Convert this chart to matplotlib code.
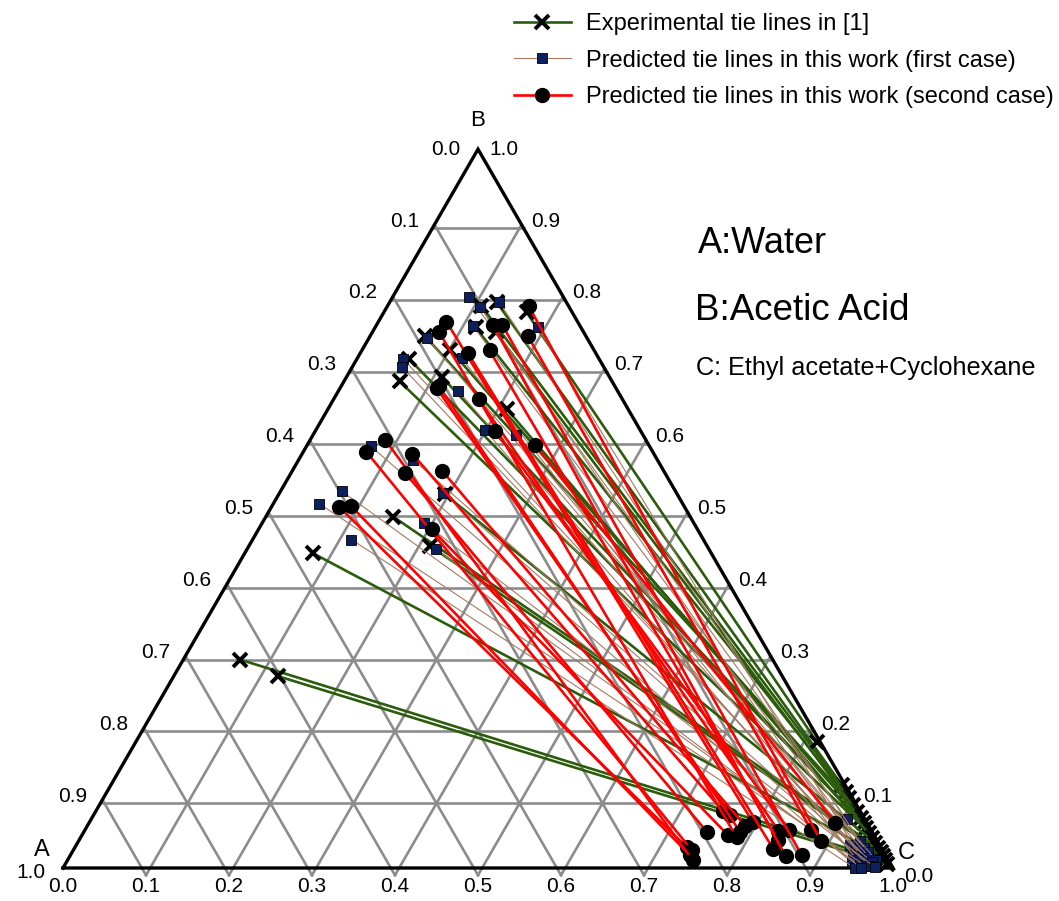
import numpy as np
import matplotlib
matplotlib.use("Agg")
import matplotlib.pyplot as plt
from matplotlib.lines import Line2D

plt.rcParams['font.family'] = ['Liberation Sans', 'DejaVu Sans']

# ---------------- data (mole fractions: B = acetic acid, C = ethyl acetate + cyclohexane) -------------
# Experimental tie lines in [1]
exp_B_left = [0.787, 0.782, 0.773, 0.752, 0.740, 0.745, 0.721, 0.708, 0.683, 0.677,
              0.638, 0.520, 0.489, 0.448, 0.438, 0.290, 0.267]
exp_C_left = [0.129, 0.113, 0.172, 0.121, 0.066, 0.149, 0.106, 0.063, 0.115, 0.067,
              0.216, 0.200, 0.153, 0.218, 0.082, 0.068, 0.125]
exp_B_right = [0.116, 0.106, 0.175, 0.097, 0.088, 0.078, 0.070, 0.063, 0.056, 0.049,
               0.042, 0.035, 0.028, 0.022, 0.017, 0.011, 0.006]
exp_C_right = [0.880, 0.890, 0.821, 0.899, 0.908, 0.918, 0.926, 0.933, 0.940, 0.947,
               0.954, 0.961, 0.968, 0.974, 0.979, 0.985, 0.990]

# Predicted tie lines (first case)
p1_B_left = [0.795, 0.788, 0.780, 0.754, 0.752, 0.738, 0.709, 0.708, 0.697, 0.663,
             0.609, 0.602, 0.587, 0.568, 0.524, 0.522, 0.507, 0.480, 0.457, 0.444]
p1_C_left = [0.092, 0.131, 0.113, 0.117, 0.196, 0.069, 0.126, 0.056, 0.060, 0.145,
             0.204, 0.245, 0.077, 0.138, 0.074, 0.197, 0.055, 0.195, 0.119, 0.227]
p1_B_right = [0.068, 0.037, 0.032, 0.028, 0.025, 0.022, 0.018, 0.017, 0.014, 0.014,
              0.011, 0.011, 0.008, 0.008, 0.004, 0.003, 0.003, 0.001, 0.000, 0.000]
p1_C_right = [0.910, 0.942, 0.932, 0.951, 0.943, 0.959, 0.943, 0.954, 0.961, 0.965,
              0.952, 0.974, 0.946, 0.971, 0.958, 0.971, 0.966, 0.978, 0.954, 0.962]

# Predicted tie lines (second case)
p2_B_left = [0.502, 0.503, 0.579, 0.596, 0.550, 0.576, 0.471, 0.668, 0.745, 0.670,
             0.553, 0.760, 0.716, 0.652, 0.720, 0.756, 0.608, 0.756, 0.740, 0.782, 0.588]
p2_C_left = [0.082, 0.096, 0.076, 0.090, 0.137, 0.133, 0.209, 0.116, 0.081, 0.118,
             0.180, 0.082, 0.130, 0.175, 0.154, 0.140, 0.217, 0.151, 0.190, 0.170, 0.275]
p2_B_right = [0.029, 0.018, 0.025, 0.011, 0.050, 0.079, 0.046, 0.074, 0.043, 0.050,
              0.059, 0.064, 0.027, 0.052, 0.039, 0.017, 0.053, 0.018, 0.053, 0.038, 0.063]
p2_C_right = [0.737, 0.746, 0.745, 0.753, 0.751, 0.756, 0.778, 0.767, 0.790, 0.791,
              0.792, 0.799, 0.842, 0.836, 0.842, 0.862, 0.848, 0.881, 0.875, 0.894, 0.899]

tick_labels = ["0.0", "0.1", "0.2", "0.3", "0.4", "0.5", "0.6", "0.7", "0.8", "0.9", "1.0"]
legend_labels = ["Experimental tie lines in [1]",
                 "Predicted tie lines in this work (first case)",
                 "Predicted tie lines in this work (second case)"]
component_labels = ["A:Water", "B:Acetic Acid", "C: Ethyl acetate+Cyclohexane"]

# ---------------- helpers ----------------
H = np.sqrt(3) / 2
S3 = np.sqrt(3)


def tern(B, C):
    B = np.asarray(B, dtype=float)
    C = np.asarray(C, dtype=float)
    return C + B / 2, B * H


GREEN = '#2b5c0c'
BROWN = '#a47a62'
RED = '#ff0000'
NAVY = '#0d1f5c'
GRAY = '#8c8c8c'

fig = plt.figure(figsize=(10.59, 9.01), dpi=100)
ax = fig.add_axes([0, 0, 1, 1])
ax.set_xlim(-63 / 830, (1059 - 63) / 830)
ax.set_ylim((868 - 901) / 830, 868 / 830)
ax.axis('off')

# ---------------- grid (slightly offset lattice as in the original) ----------------
off = 0.01 * H
for k in range(1, 10):
    y = k / 10 * H - off
    ax.plot([y / S3, 1 - y / S3], [y, y], color=GRAY, lw=1.9, zorder=1)
    x0, y0 = k / 10, -off
    y1 = H * (1 - x0 + y0 / S3)
    ax.plot([x0, 1 - y1 / S3], [y0, y1], color=GRAY, lw=1.9, zorder=1)
    y2 = H * (x0 + y0 / S3)
    ax.plot([x0, y2 / S3], [y0, y2], color=GRAY, lw=1.9, zorder=1)

# triangle frame
ax.plot([0, 1, 0.5, 0], [0, 0, H, 0], color='black', lw=2.4, zorder=2,
        solid_joinstyle='miter', solid_capstyle='projecting')

# ---------------- tie lines ----------------
xl, yl = tern(exp_B_left, exp_C_left)
xr, yr = tern(exp_B_right, exp_C_right)
for i in range(len(xl)):
    ax.plot([xl[i], xr[i]], [yl[i], yr[i]], color=GREEN, lw=1.9, marker='x',
            ms=10, mew=2.8, mec='black', zorder=3)

xl, yl = tern(p1_B_left, p1_C_left)
xr, yr = tern(p1_B_right, p1_C_right)
for i in range(len(xl)):
    ax.plot([xl[i], xr[i]], [yl[i], yr[i]], color=BROWN, lw=0.8, marker='s',
            ms=6.5, mfc=NAVY, mec='black', mew=0.6, zorder=4)

xl, yl = tern(p2_B_left, p2_C_left)
xr, yr = tern(p2_B_right, p2_C_right)
for i in range(len(xl)):
    ax.plot([xl[i], xr[i]], [yl[i], yr[i]], color=RED, lw=1.9, marker='o',
            ms=10, mfc='black', mec='black', zorder=5)

# ---------------- axis tick labels ----------------
fs_tick = 15
for k, lab in enumerate(tick_labels):
    v = k / 10
    # bottom axis (C)
    ax.text(v, -0.022, lab, ha='center', va='center', fontsize=fs_tick)
    # left axis (A): at level B = 1 - v
    b = 1 - v
    dy = -0.005 if k == 10 else 0.0
    ax.text(b / 2 - 0.021, b * H + dy, lab, ha='right', va='center', fontsize=fs_tick)
    # right axis (B): at level B = v
    dy = -0.010 if k == 0 else 0.0
    ax.text(1 - v / 2 + 0.014, v * H + dy, lab, ha='left', va='center', fontsize=fs_tick)

# corner letters
ax.text(-0.025, 0.022, "A", ha='center', va='center', fontsize=17)
ax.text(0.5, 0.900, "B", ha='center', va='center', fontsize=16)
ax.text(1.016, 0.018, "C", ha='center', va='center', fontsize=17)

# component descriptions
ax.text(0.765, 0.753, component_labels[0], ha='left', va='center', fontsize=26)
ax.text(0.762, 0.672, component_labels[1], ha='left', va='center', fontsize=26.5)
ax.text(0.763, 0.603, component_labels[2], ha='left', va='center', fontsize=18.2)

# ---------------- legend ----------------
handles = [
    Line2D([], [], color=GREEN, lw=1.9, marker='x', ms=10, mew=2.8, mec='black'),
    Line2D([], [], color=BROWN, lw=0.8, marker='s', ms=6.5, mfc=NAVY, mec='black', mew=0.6),
    Line2D([], [], color=RED, lw=1.9, marker='o', ms=10, mfc='black', mec='black'),
]
fig.legend(handles, legend_labels, loc='upper left',
           bbox_to_anchor=(514 / 1059, 1 - 13 / 901), bbox_transform=fig.transFigure,
           frameon=False, fontsize=17, handlelength=2.4, handletextpad=0.65,
           labelspacing=0.62, borderpad=0, borderaxespad=0)

fig.savefig('out.png', dpi=100)
